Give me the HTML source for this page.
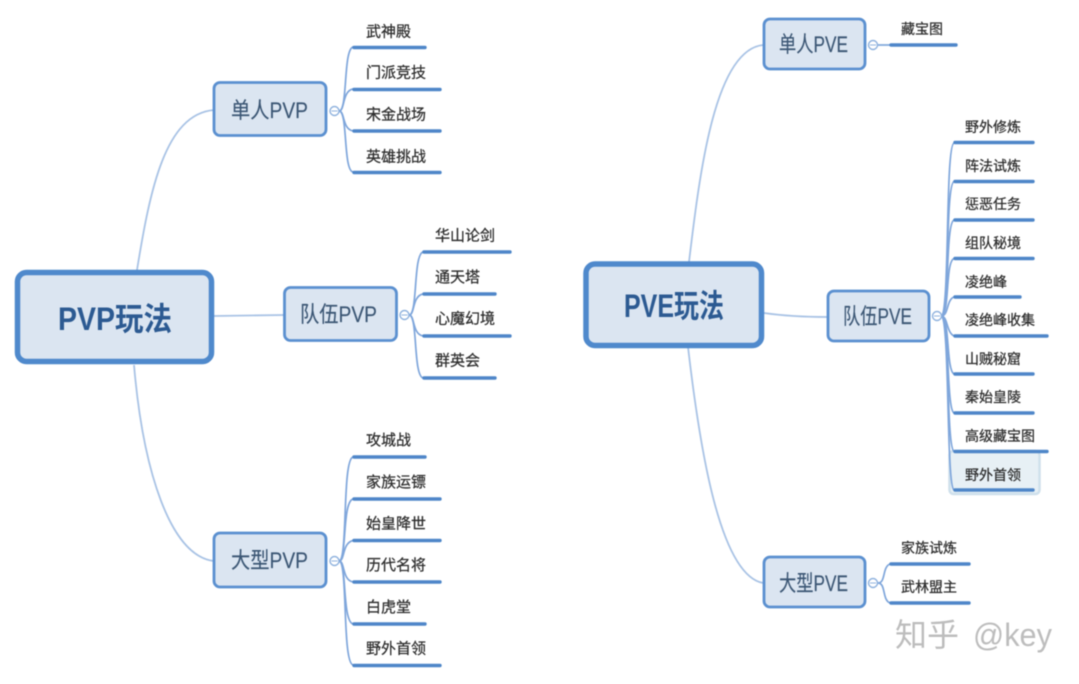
<!DOCTYPE html>
<html><head><meta charset="utf-8">
<style>
html,body{margin:0;padding:0;background:#fff;width:1079px;height:684px;overflow:hidden}
svg{display:block;filter:blur(.65px)}
text{font-family:"Liberation Sans","Noto Sans CJK SC",sans-serif}
.rl{fill:none;stroke:#a9c3e5;stroke-width:1.8}
.lc{fill:none;stroke:#7fa6db;stroke-width:1.7}
.ln{stroke:#4e86c8;stroke-width:3.4;stroke-linecap:round}
.root{fill:#dbe5f1;stroke:#4f89cc;stroke-width:5.5}
.sub{fill:#dbe5f1;stroke:#5b90d0;stroke-width:2.8}
.rt{font-size:32px;font-weight:bold;fill:#2c5a92}
.st{font-size:22px;fill:#3b5674;stroke:#3b5674;stroke-width:.15}
.l{font-size:15px;fill:#2e2e2e;stroke:#2e2e2e;stroke-width:.25}
.r{font-size:14px;fill:#2e2e2e;stroke:#2e2e2e;stroke-width:.25}
.c{fill:#fff;stroke:#8fb2de;stroke-width:1.4}
.t{stroke:#8fb2de;stroke-width:1}
</style></head><body>
<svg width="1079" height="684" viewBox="0 0 1079 684" xmlns="http://www.w3.org/2000/svg">
<!-- LEFT root links -->
<path class="rl" d="M137 270C150 190 165 114 214 110"/>
<path class="rl" d="M214 316L284 315"/>
<path class="rl" d="M134 365C143 470 170 556 214 561"/>
<!-- left connectors -->
<g class="lc">
<path d="M339 111C348 111 343 50 353 47"/>
<path d="M339 111C345 111 342 91 353 89"/>
<path d="M339 111C345 111 342 129 353 131"/>
<path d="M339 111C348 111 343 170 353 172"/>
<path d="M409 315C418 315 413 255 423 252"/>
<path d="M409 315C415 315 412 296 423 294"/>
<path d="M409 315C415 315 412 334 423 336"/>
<path d="M409 315C418 315 413 375 423 378"/>
<path d="M339 561C348 561 342 460 353 457"/>
<path d="M339 561C347 561 342 502 353 499"/>
<path d="M339 561C345 561 342 543 353 540.500"/>
<path d="M339 561C345 561 342 580 353 582"/>
<path d="M339 561C347 561 342 621 353 624"/>
<path d="M339 561C348 561 342 662 353 665"/>
</g>
<rect class="root" x="17.500" y="272.500" width="194" height="89" rx="9"/>
<text class="rt" x="58" y="330" textLength="114" lengthAdjust="spacingAndGlyphs">PVP玩法</text>
<rect class="sub" x="214" y="82.500" width="112" height="53" rx="6"/>
<text class="st" x="231" y="118" textLength="77" lengthAdjust="spacingAndGlyphs">单人PVP</text>
<rect class="sub" x="284.500" y="287.500" width="112" height="53" rx="6"/>
<text class="st" x="300" y="322" textLength="77" lengthAdjust="spacingAndGlyphs">队伍PVP</text>
<rect class="sub" x="214" y="533" width="112" height="54" rx="6"/>
<text class="st" x="231" y="568" textLength="77" lengthAdjust="spacingAndGlyphs">大型PVP</text>
<circle class="c" cx="334.500" cy="111" r="4.500"/><line class="t" x1="331.500" y1="111" x2="337.500" y2="111"/>
<circle class="c" cx="404.500" cy="315" r="4.500"/><line class="t" x1="401.500" y1="315" x2="407.500" y2="315"/>
<circle class="c" cx="334.500" cy="561" r="4.500"/><line class="t" x1="331.500" y1="561" x2="337.500" y2="561"/>
<g>
<line class="ln" x1="354" y1="47.500" x2="425" y2="47.500"/>
<line class="ln" x1="354" y1="89.500" x2="440" y2="89.500"/>
<line class="ln" x1="354" y1="131" x2="440" y2="131"/>
<line class="ln" x1="354" y1="172.500" x2="440" y2="172.500"/>
<line class="ln" x1="424" y1="252" x2="510" y2="252"/>
<line class="ln" x1="424" y1="294" x2="495" y2="294"/>
<line class="ln" x1="424" y1="336" x2="510" y2="336"/>
<line class="ln" x1="424" y1="378" x2="495" y2="378"/>
<line class="ln" x1="354" y1="457" x2="425" y2="457"/>
<line class="ln" x1="354" y1="499" x2="440" y2="499"/>
<line class="ln" x1="354" y1="540.500" x2="440" y2="540.500"/>
<line class="ln" x1="354" y1="582" x2="440" y2="582"/>
<line class="ln" x1="354" y1="624" x2="425" y2="624"/>
<line class="ln" x1="354" y1="665.500" x2="440" y2="665.500"/>
</g>
<g class="l">
<text x="366" y="36.500">武神殿</text>
<text x="366" y="77.500">门派竞技</text>
<text x="366" y="119.500">宋金战场</text>
<text x="366" y="161.500">英雄挑战</text>
<text x="435" y="240.500">华山论剑</text>
<text x="435" y="282">通天塔</text>
<text x="435" y="323.500">心魔幻境</text>
<text x="435" y="365.500">群英会</text>
<text x="366" y="445">攻城战</text>
<text x="366" y="487">家族运镖</text>
<text x="366" y="528.500">始皇降世</text>
<text x="366" y="570">历代名将</text>
<text x="366" y="612">白虎堂</text>
<text x="366" y="653.500">野外首领</text>
</g>
<!-- RIGHT -->
<rect x="949.500" y="451" width="90" height="43" rx="4" fill="#e7f0f5" stroke="#cfe0ec" stroke-width="2.500"/>
<path class="rl" d="M689 262C700 170 715 50 763 45"/>
<path class="rl" d="M764 313C785 316 805 317 828 317"/>
<path class="rl" d="M688 347C700 450 720 575 763 583"/>
<g class="lc">
<path d="M878 45L890 45"/>
<path d="M941 316C950 316 945 146 954 143"/>
<path d="M941 316C950 316 945 185 954 181.500"/>
<path d="M941 316C950 316 945 224 954 220"/>
<path d="M941 316C950 316 945 262 954 258.500"/>
<path d="M941 316C949 316 946 300 954 297"/>
<path d="M941 316C948 316 946 332 954 336"/>
<path d="M941 316C950 316 946 370 954 374"/>
<path d="M941 316C950 316 946 409 954 413"/>
<path d="M941 316C950 316 946 447 954 451.500"/>
<path d="M941 316C950 316 946 486 954 490"/>
<path d="M878 583C886 583 882 567 890 564"/>
<path d="M878 583C886 583 882 600 890 603"/>
</g>
<rect class="root" x="586" y="264" width="175.500" height="81.500" rx="9"/>
<text class="rt" x="624" y="317" textLength="100" lengthAdjust="spacingAndGlyphs">PVE玩法</text>
<rect class="sub" x="764" y="19" width="101" height="50" rx="6"/>
<text class="st" x="779" y="52" textLength="69" lengthAdjust="spacingAndGlyphs">单人PVE</text>
<rect class="sub" x="828" y="291" width="101" height="50" rx="6"/>
<text class="st" x="843" y="324" textLength="69" lengthAdjust="spacingAndGlyphs">队伍PVE</text>
<rect class="sub" x="764" y="557" width="101" height="50" rx="6"/>
<text class="st" x="779" y="591" textLength="69" lengthAdjust="spacingAndGlyphs">大型PVE</text>
<circle class="c" cx="873" cy="45" r="4.500"/><line class="t" x1="870" y1="45" x2="876" y2="45"/>
<circle class="c" cx="937" cy="316" r="4.500"/><line class="t" x1="934" y1="316" x2="940" y2="316"/>
<circle class="c" cx="873" cy="583" r="4.500"/><line class="t" x1="870" y1="583" x2="876" y2="583"/>
<g>
<line class="ln" x1="891" y1="45" x2="956" y2="45"/>
<line class="ln" x1="955" y1="142.500" x2="1033" y2="142.500"/>
<line class="ln" x1="955" y1="181.500" x2="1033" y2="181.500"/>
<line class="ln" x1="955" y1="220" x2="1033" y2="220"/>
<line class="ln" x1="955" y1="258.500" x2="1033" y2="258.500"/>
<line class="ln" x1="955" y1="297" x2="1020" y2="297"/>
<line class="ln" x1="955" y1="336" x2="1047" y2="336"/>
<line class="ln" x1="955" y1="374" x2="1033" y2="374"/>
<line class="ln" x1="955" y1="413" x2="1033" y2="413"/>
<line class="ln" x1="955" y1="451.500" x2="1047" y2="451.500"/>
<line class="ln" x1="955" y1="490" x2="1033" y2="490"/>
<line class="ln" x1="891" y1="564" x2="969" y2="564"/>
<line class="ln" x1="891" y1="603" x2="969" y2="603"/>
</g>
<g class="r">
<text x="901" y="34">藏宝图</text>
<text x="965" y="132">野外修炼</text>
<text x="965" y="171">阵法试炼</text>
<text x="965" y="209">惩恶任务</text>
<text x="965" y="248">组队秘境</text>
<text x="965" y="287">凌绝峰</text>
<text x="965" y="325">凌绝峰收集</text>
<text x="965" y="364">山贼秘窟</text>
<text x="965" y="402">秦始皇陵</text>
<text x="965" y="441">高级藏宝图</text>
<text x="965" y="480">野外首领</text>
<text x="901" y="553">家族试炼</text>
<text x="901" y="592">武林盟主</text>
</g>
<text x="895" y="646" font-size="32" fill="#bdbdbd">知乎</text>
<text x="973" y="646" font-size="32" fill="#bdbdbd" textLength="79" lengthAdjust="spacingAndGlyphs">@key</text>
</svg>
</body></html>
